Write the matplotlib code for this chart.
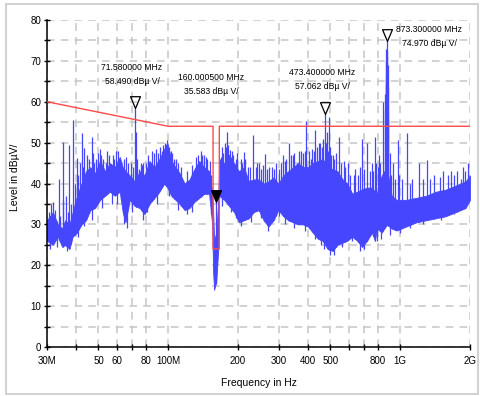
import matplotlib
matplotlib.use("Agg")
import matplotlib.pyplot as plt
import numpy as np
from matplotlib.path import Path
from matplotlib.patches import Rectangle

# spectrum band: frequency (MHz), upper and lower edge of the noise floor (dBuV)
band_freq = [30, 31.8, 33.4, 34.9, 35.9, 37.5, 38.7, 40.4, 42.3, 44.2, 46.1, 48.3,
             50.8, 53.4, 56.0, 58.8, 61.8, 63.6, 65.4, 68.2, 71.7, 75.3, 79.0, 83.0,
             87.2, 91.6, 96.1, 99.1, 103.2, 107.4, 112.0, 117.6, 123.5, 129.6, 136.1,
             143.0, 150.1, 154.6, 156.2, 157.7, 161.0, 164.3, 165.9, 174.3, 183.0,
             192.2, 201.8, 211.9, 222.5, 233.7, 245.4, 257.7, 270.6, 284.2, 298.4,
             313.4, 329.1, 345.6, 362.9, 381.1, 400.2, 420.2, 441.3, 463.4, 486.6,
             511.0, 536.6, 563.5, 591.8, 621.4, 652.6, 685.3, 719.6, 755.7, 778.0,
             793.6, 833.3, 875.1, 919.0, 965.0, 1064, 1174, 1294, 1427, 1573, 1735,
             1913, 2000]
band_upper = [31, 33, 30, 29, 31, 30, 33, 37, 40, 43, 44, 42.5,
              45.5, 43, 45, 44, 46.5, 44, 43, 42, 40.5, 43, 42, 45.5,
              44, 46, 48.5, 50, 45.5, 44, 42.5, 40, 41, 43.5, 45.5,
              44, 43, 38, 33, 26, 28, 36, 46, 45, 47,
              45, 43, 44, 40.5, 41, 41, 40, 40.5, 41.5, 40,
              42, 43, 44, 45, 44, 44, 45, 45.5, 46, 44,
              43.5, 43, 41, 40, 37.5, 38, 38.5, 39, 39, 38,
              37.5, 42, 44, 37, 36, 36, 36.5, 37, 38, 38.5, 39.5,
              40.5, 42]
band_lower = [26, 25, 27, 24.5, 25, 24, 27, 28, 30, 31, 33.5, 34,
              36, 37, 38, 37, 38, 33, 30.5, 36, 34.5, 34, 32.5, 35,
              36.5, 38, 40, 39, 37, 36, 35, 33.5, 34, 35.5, 36.5,
              37.5, 37.5, 30, 18, 14, 16, 24, 37, 36, 34.5,
              33, 30.5, 31, 31.5, 33, 33.5, 31, 29.5, 31, 33.5,
              32, 31, 30.5, 30, 30, 29.5, 28, 26.5, 26, 24,
              23.5, 25, 25.5, 26, 27, 26, 24.5, 26, 28, 26,
              29, 28, 30, 29, 28.5, 29.5, 30.5, 31, 31.5, 32, 33,
              34, 36]

# emission spikes above the noise floor
spike_freq = [31.9, 33.9, 35.3, 36.2, 37.5, 39.0, 40.4, 42.3, 43.3, 46.8, 48.0, 50.8,
              53.7, 56.5, 62.5, 67, 72.7, 74.5, 78, 90, 95, 99, 103, 108, 140, 145,
              168.5, 175, 179, 185, 198, 212, 233, 247, 262, 280, 312, 333, 358, 394,
              412, 430, 484, 495, 512, 545, 595, 685, 720, 756, 778, 810, 840, 858,
              865, 880, 885, 889, 905, 930, 975, 1070, 1200, 1310, 1530, 1820, 1970,
              862, 867, 869, 871, 875, 877, 879, 883,
              30.5, 31.2, 32.5, 34.2, 35, 36.8, 38, 39.5, 41, 41.8, 43, 44.8, 45.5,
              47.2, 49, 49.8, 51.5, 52.5, 54.5, 55.5, 57.5, 58.5, 59.5, 61, 64.5, 66,
              69, 70.5, 73.5, 76, 77, 80, 82, 85, 86.5, 88.5, 92.5, 94, 97, 98, 100.5,
              104, 106, 110, 114, 120, 126, 132, 134, 138, 142, 147, 151, 153,
              170, 172, 177, 181, 188, 190, 195, 205, 208, 215, 220, 226, 238, 242,
              252, 255, 267, 272, 285, 290, 300, 305, 318, 322, 338, 345, 350, 365,
              372, 380, 388, 405, 418, 425, 437, 445, 452, 460, 467, 478, 490, 500,
              505, 520, 528, 555, 570, 580, 610, 630, 640, 660, 670, 700, 740, 765,
              790, 800, 820, 915, 950, 990, 1020, 1100, 1130, 1250, 1350, 1400, 1480,
              1600, 1650, 1700, 1760, 1860, 1900, 1995]
spike_level = [35.5, 41, 50.2, 37, 49.4, 55.5, 46.2, 52.3, 48.6, 51.3, 45, 48.4,
               45, 44.5, 42, 45, 52.6, 43.5, 45, 47.5, 49.4, 50.6, 48, 46, 47, 46.5,
               46.5, 50, 52.6, 48.2, 47.5, 47.7, 51.8, 45, 47.3, 44, 47, 49.8, 45, 55.3,
               46, 53, 52.6, 56.2, 47, 51.4, 45, 51, 49.8, 45, 51.3, 47, 60, 62,
               66, 71, 69, 63.6, 47.4, 45, 50.6, 52.3, 45, 45.7, 43, 41, 45,
               58, 64, 70, 73, 72.5, 68, 62, 56,
               33, 35, 33.5, 32, 36, 33, 35, 40, 42, 45, 44, 47, 46,
               47.5, 46, 47.5, 47, 46, 48, 47, 47, 46, 48, 48, 46, 46.5,
               45, 44, 46, 45, 44.5, 45, 47, 48, 47.5, 48.5, 49, 48, 50, 49.5, 49,
               47.5, 46, 45, 44, 43, 44.5, 46.5, 47, 48, 47, 46, 45.5, 42,
               49, 47.5, 49, 49.5, 48, 47, 46, 46, 45, 46, 44, 44, 44, 45,
               43.5, 44.5, 43.5, 44, 43.5, 45, 43.5, 45, 45.5, 46, 47, 47, 47.5, 48,
               48, 47.5, 48, 48, 48.5, 48, 49, 50, 50, 49, 51, 50, 48, 49,
               47, 46, 47.5, 45, 45.5, 44, 42, 42, 43.5, 42, 44, 43.5, 43, 43,
               45, 44, 45, 42, 41, 42, 41, 40, 41, 41, 41, 42, 41.5,
               42, 43, 42, 43, 44, 43, 45]

# narrow dips below the noise floor
dip_freq = [31, 33, 36.5, 41, 43.5, 47, 52, 57, 60, 64.5, 66.5, 70, 78, 81, 89, 101,
            110, 120, 127, 170, 186, 196, 205, 228, 250, 268, 300, 320, 350, 390,
            430, 455, 470, 500, 520, 560, 620, 670, 700, 793, 830, 900, 1000, 1100,
            1250, 1500, 1700]
dip_level = [24, 24.5, 23.5, 27, 29.5, 31, 34, 35, 35, 30, 29, 33, 31, 33, 35, 37,
             33.5, 32.5, 33, 34.5, 33, 31.5, 29.5, 30.5, 31.5, 28.5, 32, 30, 29, 28.5,
             26.5, 25, 24, 22.5, 22.5, 24.5, 26, 23.5, 24, 26, 26.5, 27.5, 28, 29,
             30, 31, 32.5]

# limit line
limit_freq = [30, 100, 156, 156, 166, 166, 2000]
limit_level = [60, 54, 54, 24, 24, 54, 54]

# peak markers
mark_freq = [71.58, 160.0005, 473.4, 873.3]
mark_level = [58.49, 35.583, 57.062, 74.97]
mark_filled = [False, True, False, False]
mark_text_px = [(132, 63), (211, 73), (322, 68), (429, 25)]

xticks = [30, 40, 50, 60, 70, 80, 100, 200, 300, 400, 500, 600, 700, 800, 1000, 2000]
xticklabels = ["30M", "", "50", "60", "", "80", "100M", "200", "300", "400", "500",
               "", "", "800", "1G", "2G"]

W, H = 480, 396
sans = ["Liberation Sans", "DejaVu Sans"]
blue = "#4646ff"

fig = plt.figure(figsize=(W / 100, H / 100), dpi=100)
ax = fig.add_axes([47 / W, 1 - 347 / H, 423 / W, 327 / H])

fig.patches.append(Rectangle((6 / W, 2 / H), 472 / W, 390 / H, transform=fig.transFigure,
                             fill=False, edgecolor="#d2d2d2", linewidth=1.5))

ax.fill_between(band_freq, band_lower, band_upper, color=blue, linewidth=0.6,
                edgecolor=blue, zorder=2)

# spikes rise out of the band's lower edge, dips hang from its upper edge
lf = np.log10(band_freq)
up_f = np.array(spike_freq + mark_freq)
up_l = np.array(spike_level + mark_level)
ax.vlines(up_f, np.interp(np.log10(up_f), lf, band_lower), up_l,
          color=blue, linewidth=0.9, zorder=2)
ax.vlines(dip_freq, dip_level, np.interp(np.log10(dip_freq), lf, band_upper),
          color=blue, linewidth=0.9, zorder=2)

ax.plot(limit_freq, limit_level, color="#ff4a4a", linewidth=1.0, zorder=3)

# downward triangle with its tip on the peak
tri = Path([(-0.42, 1.0), (0.42, 1.0), (0.0, 0.0), (-0.42, 1.0)],
           [Path.MOVETO, Path.LINETO, Path.LINETO, Path.CLOSEPOLY])
for f, lv, filled, (tx, ty) in zip(mark_freq, mark_level, mark_filled, mark_text_px):
    ax.plot([f], [lv], marker=tri, markersize=17, linestyle="none",
            markerfacecolor="black" if filled else "none",
            markeredgecolor="black", markeredgewidth=0.9, zorder=4)
    fig.text(tx / W, 1 - ty / H, f"{f:.6f} MHz\n{lv:.3f} dB\u00b5 V/",
             ha="center", va="top", fontsize=6.2, family=sans,
             linespacing=1.75, transform=fig.transFigure)

ax.set_xscale("log")
ax.set_xlim(30, 2000)
ax.set_ylim(0, 80)
ax.set_xticks(xticks)
ax.set_xticklabels(xticklabels)
ax.xaxis.set_minor_locator(matplotlib.ticker.NullLocator())
ax.set_yticks(np.arange(0, 81, 10))
ax.set_yticks(np.arange(5, 80, 10), minor=True)

ax.grid(True, which="both", color="#c6c6c6", linestyle=(0, (5, 4)), linewidth=1.1)
ax.set_axisbelow(True)

for side in ("top", "right"):
    ax.spines[side].set_visible(False)
ax.spines["left"].set_linewidth(1.1)
ax.spines["bottom"].set_linewidth(1.1)

ax.tick_params(axis="both", which="both", direction="inout", length=4.5, width=1.0)
ax.tick_params(axis="x", pad=4)
ax.tick_params(axis="y", pad=2)
for lab in ax.get_xticklabels() + ax.get_yticklabels():
    lab.set_family(sans)
    lab.set_fontsize(7)

ax.set_xlabel("Frequency in Hz", family=sans, fontsize=7.5, labelpad=9)
ax.set_ylabel("Level in dB\u00b5V/", family=sans, fontsize=7.5)
ax.yaxis.set_label_coords(-0.064, 0.52)

fig.savefig("out.png", dpi=100)
